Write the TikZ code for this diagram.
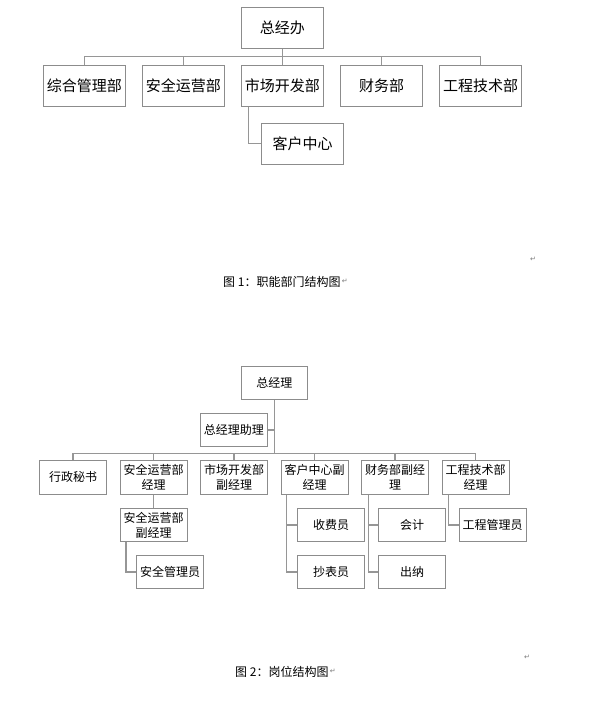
\documentclass[tikz,border=0pt]{standalone}
\usepackage{fontspec}
\newfontfamily\cjk{Noto Sans CJK SC}
\newfontfamily\symfont{DejaVu Sans}
\definecolor{boxgray}{RGB}{140,140,140}
\definecolor{linegray}{RGB}{150,150,150}
\definecolor{markgray}{RGB}{120,120,120}
\tikzset{
  bigbox/.style={draw=boxgray, line width=0.9pt, fill=white, inner sep=0pt,
    minimum width=82pt, minimum height=41pt, font=\cjk\fontsize{15}{18}\selectfont},
  smallbox/.style={draw=boxgray, line width=0.9pt, fill=white, inner sep=0pt,
    minimum width=67pt, minimum height=33.5pt, align=center,
    font=\cjk\fontsize{12}{15}\selectfont},
  conn/.style={draw=linegray, line width=1.2pt},
  caption/.style={anchor=west, inner sep=0pt, font=\cjk\fontsize{12}{14}\selectfont},
  pmark/.style={inner sep=0pt, text=markgray, font=\symfont\fontsize{7}{8}\selectfont}
}
\begin{document}
\begin{tikzpicture}[x=1pt,y=-1pt]
\useasboundingbox[fill=white] (0,0) rectangle (592,703);

% ---------- Figure 1 ----------
\coordinate (barA) at (0,56.7);
\node[bigbox] (zjb) at (282.3,27.8) {总经办};
\node[bigbox] (d1) at (84.3,85.8) {综合管理部};
\node[bigbox] (d2) at (183.3,85.8) {安全运营部};
\node[bigbox] (d3) at (282.3,85.8) {市场开发部};
\node[bigbox] (d4) at (381.5,85.8) {财务部};
\node[bigbox] (d5) at (480.5,85.8) {工程技术部};
\node[bigbox] (kh) at (302.5,143.8) {客户中心};

\draw[conn] (zjb.south) -- (zjb.south |- barA);
\draw[conn] (d1.north) -- (d1.north |- barA) -- (d5.north |- barA) -- (d5.north);
\draw[conn] (d2.north) -- (d2.north |- barA);
\draw[conn] (d3.north) -- (d3.north |- barA);
\draw[conn] (d4.north) -- (d4.north |- barA);
\draw[conn] ([xshift=8pt]d3.south west) |- (kh.west);

\node[caption] (cap1) at (223,281.7) {图 1：职能部门结构图};
\node[pmark, anchor=west] (pm1) at ([xshift=1pt]cap1.east) {↵};
\node[pmark] (pm2) at (533,259) {↵};

% ---------- Figure 2 ----------
\coordinate (barB) at (0,453.3);
\node[smallbox, minimum width=66pt, minimum height=32.6pt] (zjl) at (274.3,383) {总经理};
\node[smallbox] (zl) at (233.8,430) {总经理助理};
\node[smallbox, minimum height=34.3pt] (r1) at (73,477.2) {行政秘书};
\node[smallbox, minimum height=34.3pt] (r2) at (153.5,477.2) {安全运营部\\经理};
\node[smallbox, minimum height=34.3pt] (r3) at (234,477.2) {市场开发部\\副经理};
\node[smallbox, minimum height=34.3pt] (r4) at (314.5,477.2) {客户中心副\\经理};
\node[smallbox, minimum height=34.3pt] (r5) at (395,477.2) {财务部副经\\理};
\node[smallbox, minimum height=34.3pt] (r6) at (475.5,477.2) {工程技术部\\经理};

\node[smallbox] (aqf) at (153.5,525) {安全运营部\\副经理};
\node[smallbox] (aqy) at (170,572) {安全管理员};
\node[smallbox] (sfy) at (331,525) {收费员};
\node[smallbox] (cby) at (331,572) {抄表员};
\node[smallbox] (kj) at (412,525) {会计};
\node[smallbox] (cn) at (412,572) {出纳};
\node[smallbox] (gcy) at (492.5,525) {工程管理员};

\draw[conn] (zjl.south) -- (zjl.south |- barB);
\draw[conn] (zl.east) -- (zl.east -| zjl.south);
\draw[conn] (r1.north) -- (r1.north |- barB) -- (r6.north |- barB) -- (r6.north);
\draw[conn] (r2.north) -- (r2.north |- barB);
\draw[conn] (r3.north) -- (r3.north |- barB);
\draw[conn] (r4.north) -- (r4.north |- barB);
\draw[conn] (r5.north) -- (r5.north |- barB);

\draw[conn] (r2.south) -- (aqf.north);
\draw[conn] ([xshift=6.4pt]aqf.south west) |- (aqy.west);
\draw[conn] ([xshift=6pt]r4.south west) |- (cby.west);
\draw[conn] ([xshift=6pt]r4.south west) |- (sfy.west);
\draw[conn] ([xshift=7.4pt]r5.south west) |- (cn.west);
\draw[conn] ([xshift=7.4pt]r5.south west) |- (kj.west);
\draw[conn] ([xshift=7pt]r6.south west) |- (gcy.west);

\node[caption] (cap2) at (235,671.7) {图 2：岗位结构图};
\node[pmark, anchor=west] (pm3) at ([xshift=1pt]cap2.east) {↵};
\node[pmark] (pm4) at (527,657) {↵};
\end{tikzpicture}
\end{document}
